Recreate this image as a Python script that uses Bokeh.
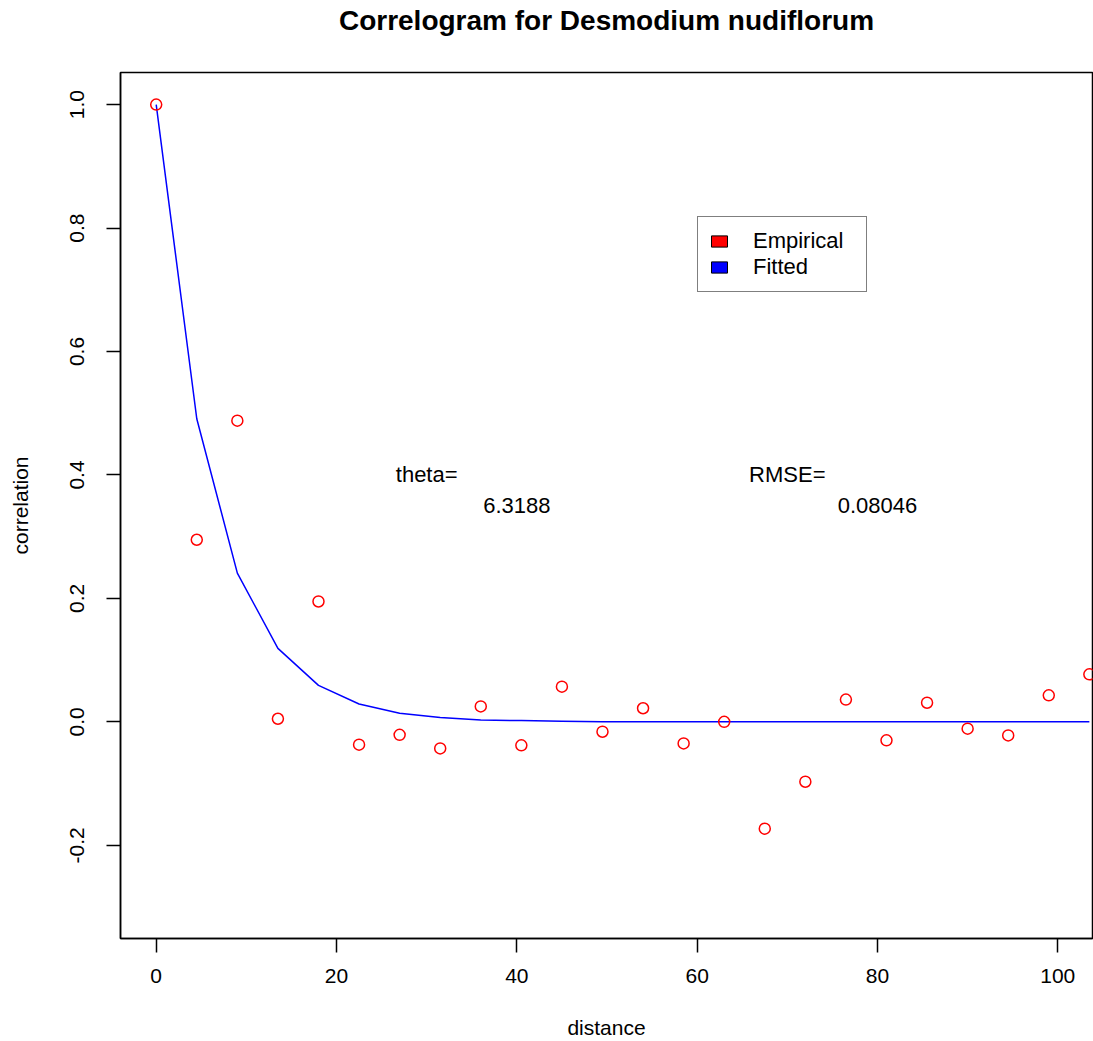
from bokeh.plotting import figure
from bokeh.models import (Range1d, FixedTicker, PrintfTickFormatter, Label, Legend,
                          LegendItem, LinearAxis)
from bokeh.embed import file_html
from bokeh.resources import INLINE
import math

title_text = "Correlogram for Desmodium nudiflorum"
x_label = "distance"
y_label = "correlation"

distance = [0, 4.5, 9, 13.5, 18, 22.5, 27, 31.5, 36, 40.5, 45, 49.5, 54, 58.5,
            63, 67.5, 72, 76.5, 81, 85.5, 90, 94.5, 99, 103.5]
empirical = [1.0, 0.295, 0.488, 0.005, 0.195, -0.037, -0.021, -0.043, 0.025, -0.038,
             0.057, -0.016, 0.022, -0.035, 0.0, -0.173, -0.097, 0.036, -0.030, 0.031,
             -0.011, -0.022, 0.043, 0.077]
fitted = [1.0, 0.491, 0.241, 0.119, 0.059, 0.029, 0.014, 0.007, 0.003, 0.002,
          0.001, 0.0, 0.0, 0.0, 0.0, 0.0, 0.0, 0.0, 0.0, 0.0, 0.0, 0.0, 0.0, 0.0]

x_ticks = [0, 20, 40, 60, 80, 100]
y_ticks = [-0.2, 0.0, 0.2, 0.4, 0.6, 0.8, 1.0]

ann_text = ["theta=", "6.3188", "RMSE=", "0.08046"]
ann_x = [30, 40, 70, 80]
ann_y = [0.4, 0.35, 0.4, 0.35]

legend_labels = ["Empirical", "Fitted"]
legend_colors = ["red", "blue"]

FONT = "Liberation Sans"

p = figure(width=1093, height=1041, output_backend="svg", toolbar_location=None,
           x_range=Range1d(-3.96, 103.85), y_range=Range1d(-0.351, 1.052),
           min_border_left=120, min_border_right=1, min_border_top=72, min_border_bottom=103)

p.xgrid.visible = False
p.ygrid.visible = False
p.outline_line_color = "black"
p.outline_line_width = 1.5
p.background_fill_color = "white"
p.border_fill_color = "white"

xa = p.below[0]
ya = p.left[0]
for ax in (xa, ya):
    ax.axis_line_color = "black"
    ax.axis_line_width = 1.5
    ax.major_tick_in = 0
    ax.major_tick_out = 14
    ax.major_tick_line_width = 1.5
    ax.minor_tick_line_color = None
    ax.major_label_text_font = FONT
    ax.major_label_text_font_size = "21px"
    ax.major_label_text_color = "black"
    ax.axis_label_text_font = FONT
    ax.axis_label_text_font_size = "21px"
    ax.axis_label_text_font_style = "normal"
    ax.axis_label_text_color = "black"

xa.major_label_standoff = 16
ya.major_label_standoff = 22
xa.ticker = FixedTicker(ticks=x_ticks)
ya.ticker = FixedTicker(ticks=y_ticks)
ya.formatter = PrintfTickFormatter(format="%.1f")
ya.major_label_orientation = "vertical"
xa.axis_label = x_label
ya.axis_label = y_label
xa.axis_label_standoff = 30
ya.axis_label_standoff = 36

# title: label of a tick-less axis above the frame
top_axis = LinearAxis(ticker=FixedTicker(ticks=[]), axis_label=title_text,
                      axis_line_color=None, major_tick_line_color=None,
                      minor_tick_line_color=None, major_label_text_font_size="0px",
                      axis_label_text_font=FONT, axis_label_text_font_size="28px",
                      axis_label_text_font_style="bold", axis_label_text_color="black",
                      axis_label_standoff=37)
p.add_layout(top_axis, "above")

p.line(distance, fitted, line_color="blue", line_width=1.5)
p.scatter(distance, empirical, size=11, fill_color=None, line_color="red", line_width=1.5)

for t, x, y in zip(ann_text, ann_x, ann_y):
    p.add_layout(Label(x=x, y=y, text=t, text_align="center", text_baseline="middle",
                       text_font=FONT, text_font_size="22px", text_color="black"))

items = []
for lab, col in zip(legend_labels, legend_colors):
    r = p.quad(left=[math.nan], right=[math.nan], bottom=[math.nan], top=[math.nan],
               fill_color=col, line_color="black", line_width=1)
    items.append(LegendItem(label=lab, renderers=[r]))

leg = Legend(items=items, location=(577, 646), orientation="vertical",
             label_text_font=FONT, label_text_font_size="22px", label_text_color="black",
             glyph_width=20, glyph_height=14, label_height=22, label_width=102, spacing=0,
             padding=11, margin=0, label_standoff=24,
             border_line_color="black", border_line_width=1.5,
             background_fill_alpha=1.0)
p.add_layout(leg, "center")

open("out.html", "w").write(file_html(p, INLINE))
